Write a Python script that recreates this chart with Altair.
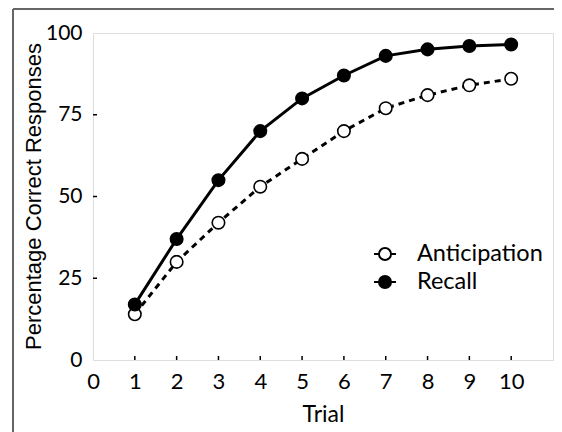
import altair as alt
import pandas as pd

trials = [1, 2, 3, 4, 5, 6, 7, 8, 9, 10]
anticipation = [14, 30, 42, 53, 61.5, 70, 77, 81, 84, 86]
recall = [17, 37, 55, 70, 80, 87, 93, 95, 96, 96.5]
series_names = ["Anticipation", "Recall"]
x_ticks = [0, 1, 2, 3, 4, 5, 6, 7, 8, 9, 10]
y_ticks = [0, 25, 50, 75, 100]

rows = []
for t, v in zip(trials, anticipation):
    rows.append({"Trial": t, "Value": v, "Series": "Anticipation"})
for t, v in zip(trials, recall):
    rows.append({"Trial": t, "Value": v, "Series": "Recall"})
df = pd.DataFrame(rows)

W, H = 460, 327

xscale = alt.Scale(domain=[0, 11], nice=False)
yscale = alt.Scale(domain=[0, 100], nice=False)

xaxis = alt.Axis(values=x_ticks, ticks=False, grid=False, domain=False,
                 labelFont="Lato", labelFontSize=22, labelColor="black",
                 labelPadding=11, titleFont="Lato", titleFontSize=23,
                 titleFontWeight="normal", titleColor="black", titlePadding=11,
                 labelFlush=False)
yaxis = alt.Axis(values=y_ticks, ticks=False, grid=False, domain=False,
                 labelFont="Lato", labelFontSize=21, labelColor="black",
                 labelPadding=11, titleFont="Liberation Sans", titleFontSize=22,
                 titleFontWeight="normal", titleColor="black",
                 titleX=-60, titleY=163, titleBaseline="middle", titleAlign="center",
                 titleAngle=270)

base = alt.Chart(df)

line_ant = base.transform_filter(alt.datum.Series == "Anticipation").mark_line(
    color="black", strokeWidth=3, strokeDash=[6, 5]).encode(
    x=alt.X("Trial:Q", scale=xscale, axis=xaxis, title="Trial"),
    y=alt.Y("Value:Q", scale=yscale, axis=yaxis, title="Percentage Correct Responses"),
)
line_rec = base.transform_filter(alt.datum.Series == "Recall").mark_line(
    color="black", strokeWidth=3).encode(
    x=alt.X("Trial:Q", scale=xscale),
    y=alt.Y("Value:Q", scale=yscale),
)

symbol_path = "M-1,0H-0.55M0.55,0H1M-0.55,0A0.55,0.55,0,1,1,0.55,0A0.55,0.55,0,1,1,-0.55,0Z"

points = base.mark_point(shape="circle", filled=True, size=155, stroke="black",
                         strokeWidth=1.6, opacity=1).encode(
    x=alt.X("Trial:Q", scale=xscale),
    y=alt.Y("Value:Q", scale=yscale),
    fill=alt.Fill("Series:N",
                  scale=alt.Scale(domain=series_names, range=["white", "black"]),
                  legend=alt.Legend(title=None, orient="none", legendX=280, legendY=209,
                                    symbolType=symbol_path, symbolSize=480,
                                    symbolStrokeColor="black", symbolStrokeWidth=2,
                                    symbolOpacity=1,
                                    labelFont="Lato", labelFontSize=23.5, labelColor="black",
                                    labelOffset=20, rowPadding=4)),
)

# inward tick marks
xt = pd.DataFrame({"Trial": trials})
xticks = alt.Chart(xt).mark_rule(color="black", strokeWidth=1.5).encode(
    x=alt.X("Trial:Q", scale=xscale),
    y=alt.value(H), y2=alt.value(H - 4),
)
yt = pd.DataFrame({"Value": [25, 50, 75]})
yticks = alt.Chart(yt).mark_rule(color="black", strokeWidth=1.5).encode(
    y=alt.Y("Value:Q", scale=yscale),
    x=alt.value(0), x2=alt.value(4),
)

# outer figure border
border_left = alt.Chart(xt).mark_rule(color="#666666", strokeWidth=2).encode(
    x=alt.value(-80), y=alt.value(-24), y2=alt.value(H + 80))
border_top = alt.Chart(xt).mark_rule(color="#666666", strokeWidth=2).encode(
    y=alt.value(-24), x=alt.value(-80), x2=alt.value(W + 10))

chart = alt.layer(border_left, border_top, line_ant, line_rec, points, xticks, yticks).properties(
    width=W, height=H,
    autosize=alt.AutoSizeParams(type="none"),
    padding={"left": 85, "top": 25, "right": 1, "bottom": 72},
).configure_view(stroke="black", strokeWidth=2).configure(background="white")

chart.save("out.html", embed_options={"renderer": "svg", "actions": False})
